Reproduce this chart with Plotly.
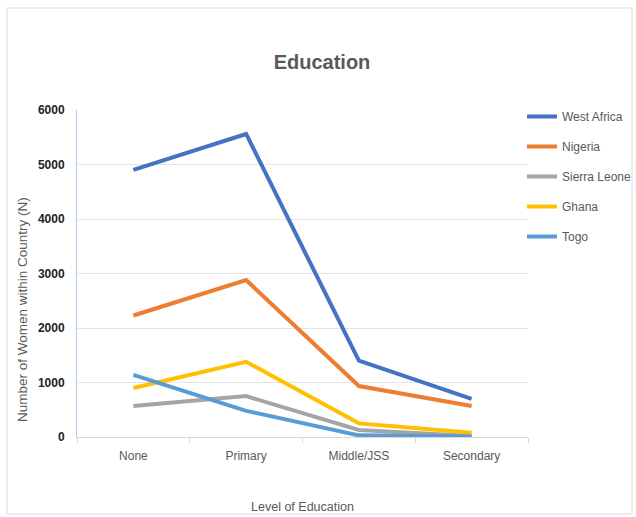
import plotly.graph_objects as go

# Education level categories and counts of women per region
levels = ["None", "Primary", "Middle/JSS", "Secondary"]
west_africa = [4900, 5560, 1400, 700]
nigeria = [2230, 2880, 935, 570]
sierra_leone = [570, 750, 130, 20]
ghana = [900, 1380, 250, 80]
togo = [1140, 480, 30, 10]
tick_vals = [0, 1000, 2000, 3000, 4000, 5000, 6000]

series = [
    ("West Africa", west_africa, "#4472C4"),
    ("Nigeria", nigeria, "#ED7D31"),
    ("Sierra Leone", sierra_leone, "#A5A5A5"),
    ("Ghana", ghana, "#FFC000"),
    ("Togo", togo, "#5B9BD5"),
]

font_family = "Liberation Sans, Arial, sans-serif"
grey_text = "#595959"

fig = go.Figure()
for name, vals, color in series:
    fig.add_trace(go.Scatter(
        x=levels, y=vals, mode="lines", name=name,
        legendgroup=name,
        line=dict(color=color, width=4),
    ))

W, H = 636, 517
ml, mr, mt, mb = 77, 108, 110, 80
pw, ph = W - ml - mr, H - mt - mb

def px_x(px):
    return (px - ml) / pw

def px_y(py):
    return (H - mb - py) / ph

fig.update_layout(
    width=W, height=H,
    margin=dict(l=ml, r=mr, t=mt, b=mb, autoexpand=False),
    paper_bgcolor="white", plot_bgcolor="white",
    font=dict(family=font_family, color=grey_text),
    title=dict(text="<b>Education</b>", x=px_x(322), xref="paper", xanchor="center",
               y=1 - 62 / H, yanchor="middle",
               font=dict(size=20, color=grey_text, family=font_family)),
    xaxis=dict(
        type="category", range=[-0.5, 3.5],
        showgrid=False, showline=True, linecolor="#D9D9D9", linewidth=1,
        ticks="outside", tickson="boundaries", ticklen=5, tickcolor="#D9D9D9",
        tickfont=dict(size=12, color=grey_text),
        ticklabelstandoff=8,
        title=dict(text="Level of Education", font=dict(size=12.5, color=grey_text), standoff=39),
        zeroline=False,
    ),
    yaxis=dict(
        range=[0, 6000], tickvals=tick_vals,
        showgrid=True, gridcolor="#E4E4E4", gridwidth=1,
        showline=True, linecolor="#B4C7E7", linewidth=1,
        zeroline=False,
        tickfont=dict(size=12, color="#222222", family="Liberation Sans, Arial, sans-serif", weight="bold"),
        ticklabelstandoff=9,
    ),
    legend=dict(
        x=px_x(522), xanchor="left", y=px_y(102), yanchor="top",
        font=dict(size=12, color=grey_text),
        tracegroupgap=11, bgcolor="rgba(0,0,0,0)",
    ),
    showlegend=True,
)

# vertical axis title
fig.add_annotation(
    text="Number of Women within Country (N)", textangle=-90,
    xref="paper", yref="paper", x=px_x(22), y=px_y(310),
    xanchor="center", yanchor="middle", showarrow=False,
    font=dict(size=13.5, color=grey_text, family=font_family),
)

# light chart-area frame
fig.add_shape(type="rect", xref="paper", yref="paper",
              x0=px_x(7), x1=px_x(632), y0=px_y(514), y1=px_y(8),
              line=dict(color="#D9D9D9", width=1), fillcolor="rgba(0,0,0,0)", layer="below")

fig.write_html("out.html")
